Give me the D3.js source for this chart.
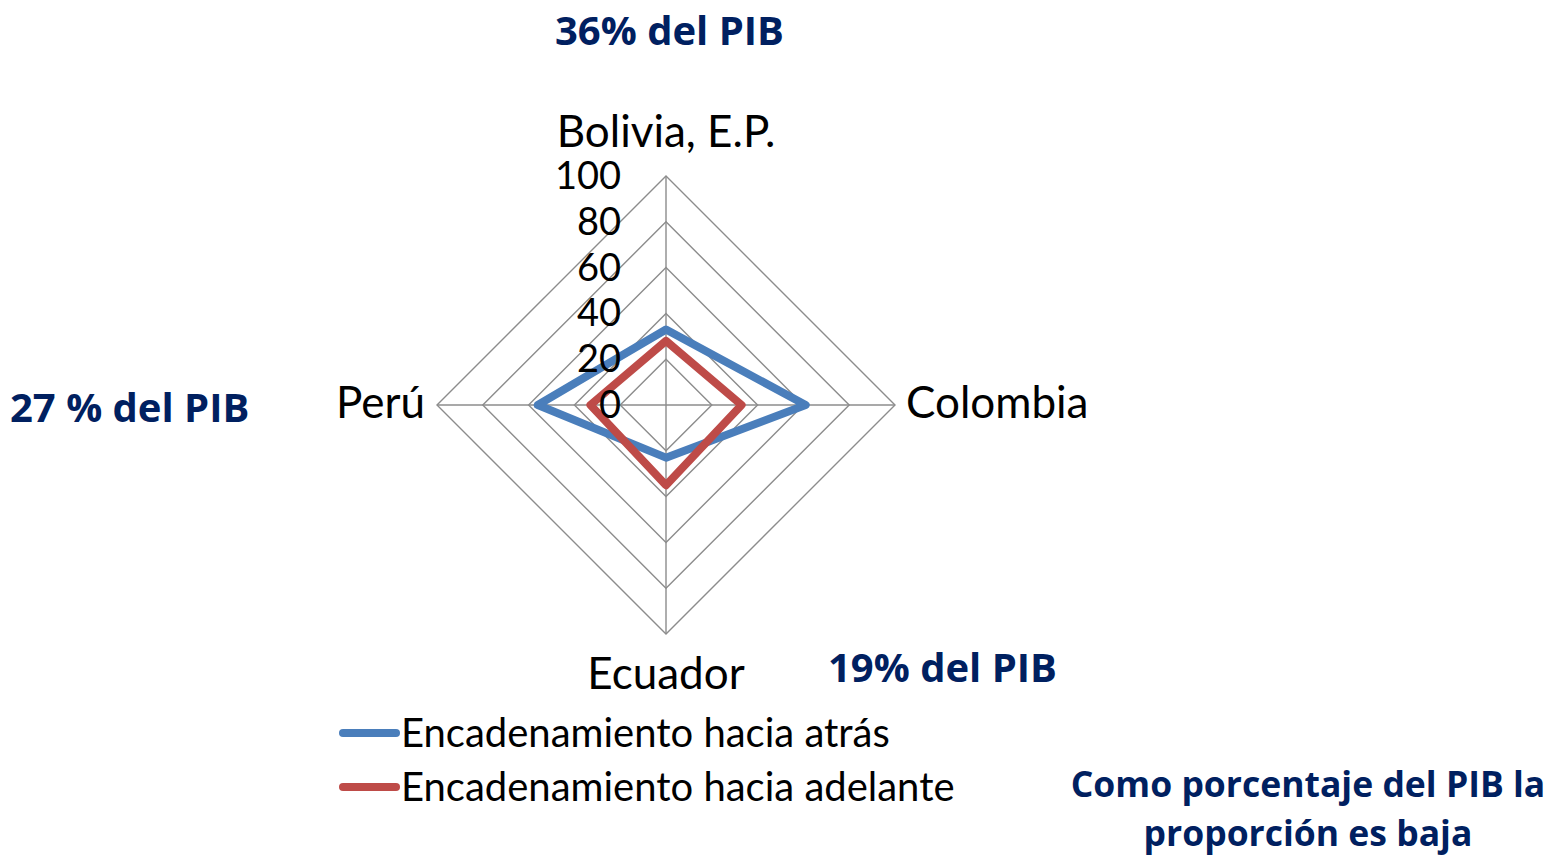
<!DOCTYPE html>
<html>
<head>
<meta charset="utf-8">
<script src="https://cdn.jsdelivr.net/npm/d3@7"></script>
<style>
  html, body { margin: 0; padding: 0; background: #ffffff; }
  svg { display: block; }
</style>
</head>
<body>
<svg id="chart" width="1550" height="856"></svg>
<script>
// ---- data ----
const categories = ["Bolivia, E.P.", "Colombia", "Ecuador", "Perú"];
const seriesNames = ["Encadenamiento hacia atrás", "Encadenamiento hacia adelante"];
const atras = [33, 61, 23, 56];
const adelante = [28, 33, 35, 33];
const tickValues = [0, 20, 40, 60, 80, 100];
const tickLabels = ["0", "20", "40", "60", "80", "100"];
const annotations = ["36% del PIB", "27 % del PIB", "19% del PIB"];
const noteLines = ["Como porcentaje del PIB la", "proporción es baja"];

// ---- layout ----
const svg = d3.select("#chart");
const cx = 666, cy = 405, R = 229;
const colors = ["#4A7EBB", "#BE4B48"];
const gridColor = "#8c8c8c";
const labelFont = "Lato, 'Open Sans', sans-serif";
const boldFont = "'Open Sans', Lato, sans-serif";

const r = d3.scaleLinear().domain([0, 100]).range([0, R]);
const step = 2 * Math.PI / categories.length;
const ang = i => i * step;

const g = svg.append("g").attr("transform", `translate(${cx},${cy})`);

const ringLine = d3.lineRadial()
  .angle((d, i) => ang(i))
  .radius(d => r(d))
  .curve(d3.curveLinearClosed);

// grid rings
g.selectAll("path.ring")
  .data(tickValues.filter(v => v > 0))
  .join("path")
  .attr("class", "ring")
  .attr("d", v => ringLine(categories.map(() => v)))
  .attr("fill", "none")
  .attr("stroke", gridColor)
  .attr("stroke-width", 1.4);

// spokes
g.selectAll("line.spoke")
  .data(categories)
  .join("line")
  .attr("class", "spoke")
  .attr("x1", 0).attr("y1", 0)
  .attr("x2", (d, i) => r(100) * Math.sin(ang(i)))
  .attr("y2", (d, i) => -r(100) * Math.cos(ang(i)))
  .attr("stroke", gridColor)
  .attr("stroke-width", 1.4);

// series
const seriesData = [atras, adelante];
g.selectAll("path.series")
  .data(seriesData)
  .join("path")
  .attr("class", "series")
  .attr("d", vals => ringLine(vals))
  .attr("fill", "none")
  .attr("stroke", (d, i) => colors[i])
  .attr("stroke-width", 8)
  .attr("stroke-linejoin", "round");

// tick labels along the vertical axis
g.selectAll("text.tick")
  .data(tickValues)
  .join("text")
  .attr("class", "tick")
  .attr("x", -45)
  .attr("y", v => -r(v) + 13)
  .attr("text-anchor", "end")
  .attr("font-family", labelFont)
  .attr("font-size", 38)
  .attr("fill", "#000")
  .text((v, i) => tickLabels[i]);

// category labels
const catPos = [
  { x: 0, y: -R - 29, anchor: "middle" },
  { x: R + 11, y: 13, anchor: "start" },
  { x: 0, y: R + 55, anchor: "middle" },
  { x: -R - 12, y: 13, anchor: "end" }
];
g.selectAll("text.cat")
  .data(categories)
  .join("text")
  .attr("class", "cat")
  .attr("x", (d, i) => catPos[i].x)
  .attr("y", (d, i) => catPos[i].y)
  .attr("text-anchor", (d, i) => catPos[i].anchor)
  .attr("font-family", labelFont)
  .attr("font-size", 44)
  .attr("fill", "#000")
  .text(d => d);

// legend
const legend = svg.append("g");
const legRows = legend.selectAll("g")
  .data(seriesNames)
  .join("g")
  .attr("transform", (d, i) => `translate(340, ${733 + i * 54})`);
legRows.append("line")
  .attr("x1", 3).attr("x2", 56).attr("y1", 0).attr("y2", 0)
  .attr("stroke", (d, i) => colors[i])
  .attr("stroke-width", 8)
  .attr("stroke-linecap", "round");
legRows.append("text")
  .attr("x", 61)
  .attr("y", 14)
  .attr("font-family", labelFont)
  .attr("font-size", 40)
  .attr("fill", "#000")
  .text(d => d);

// annotations
const annPos = [
  { x: 555, y: 45 },
  { x: 10, y: 422 },
  { x: 828, y: 682 }
];
svg.selectAll("text.ann")
  .data(annotations)
  .join("text")
  .attr("class", "ann")
  .attr("x", (d, i) => annPos[i].x)
  .attr("y", (d, i) => annPos[i].y)
  .attr("font-family", boldFont)
  .attr("font-weight", 700)
  .attr("font-size", 40)
  .attr("fill", "#002060")
  .text(d => d);

svg.selectAll("text.note")
  .data(noteLines)
  .join("text")
  .attr("class", "note")
  .attr("x", 1308)
  .attr("y", (d, i) => 797 + i * 49)
  .attr("text-anchor", "middle")
  .attr("font-family", boldFont)
  .attr("font-weight", 700)
  .attr("font-size", 35.5)
  .attr("fill", "#002060")
  .text(d => d);
</script>
</body>
</html>
